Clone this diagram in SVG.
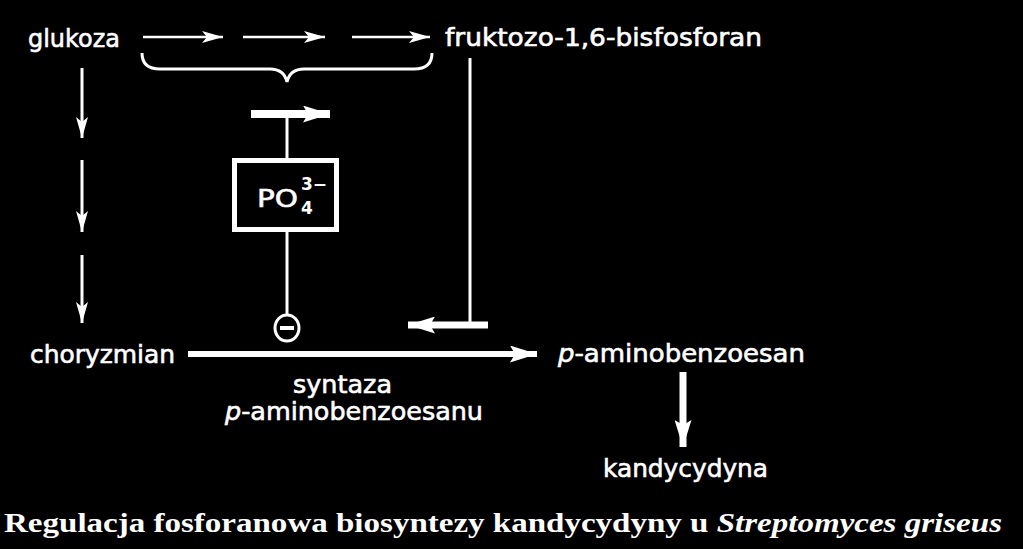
<svg xmlns="http://www.w3.org/2000/svg" width="1023" height="549" viewBox="0 0 1023 549">
<style>
.lbl{font-family:"DejaVu Sans","Liberation Sans",sans-serif;font-size:24px;fill:#fff;stroke:#fff;stroke-width:0.6}
.sub{font-family:"DejaVu Sans","Liberation Sans",sans-serif;font-size:17px;fill:#fff;font-weight:bold}
.it{font-style:italic}
.cap{font-family:"Liberation Serif","DejaVu Serif",serif;font-size:28px;font-weight:bold;fill:#fff}
.thin{stroke:#fff;stroke-width:2.5;fill:none}
.line{stroke:#fff;stroke-width:3;fill:none}
.thick{stroke:#fff;fill:none}
</style>
<defs>
<marker id="h" markerUnits="userSpaceOnUse" markerWidth="22" markerHeight="12" refX="21" refY="6" orient="auto">
<path d="M0,0 L21,6 L0,12 L5,6 z" fill="#fff"/>
</marker>
<marker id="H" markerUnits="userSpaceOnUse" markerWidth="28" markerHeight="17" refX="27" refY="8.5" orient="auto">
<path d="M0,0 L27,8.5 L0,17 L5,8.5 z" fill="#fff"/>
</marker>
</defs>
<rect width="1023" height="549" fill="#000"/>
<g id="connectors">
<line class="thin" x1="143" y1="37" x2="223" y2="37" marker-end="url(#h)"/>
<line class="thin" x1="243" y1="37" x2="325" y2="37" marker-end="url(#h)"/>
<line class="thin" x1="352" y1="37" x2="430" y2="37" marker-end="url(#h)"/>
<path class="line" d="M142,53 Q142,69 160,69 L270,69 Q284,69 287,82 Q290,69 304,69 L414,69 Q432,69 432,53"/>
<line class="line" x1="82" y1="68" x2="82" y2="138" marker-end="url(#h)"/>
<line class="line" x1="82" y1="160" x2="82" y2="232" marker-end="url(#h)"/>
<line class="line" x1="82" y1="255" x2="82" y2="323" marker-end="url(#h)"/>
<line class="thick" stroke-width="8" x1="251" y1="114" x2="330" y2="114" marker-end="url(#H)"/>
<line class="line" x1="287" y1="114" x2="287" y2="160"/>
<line class="line" x1="287" y1="230" x2="287" y2="315"/>
<line class="line" x1="470" y1="58" x2="470" y2="325"/>
<line class="thick" stroke-width="7" x1="488" y1="325" x2="408" y2="325" marker-end="url(#H)"/>
<line class="thick" stroke-width="6" x1="188" y1="354" x2="537" y2="354" marker-end="url(#H)"/>
<line class="thick" stroke-width="7" x1="683" y1="372" x2="683" y2="447" marker-end="url(#H)"/>
</g>
<g id="glukoza"><text class="lbl" x="28" y="47" textLength="92" lengthAdjust="spacingAndGlyphs">glukoza</text></g>
<g id="fruktozo"><text class="lbl" x="445" y="46" textLength="317" lengthAdjust="spacingAndGlyphs">fruktozo-1,6-bisfosforan</text></g>
<g id="po4">
<rect x="234.5" y="160.5" width="102" height="69" fill="none" stroke="#fff" stroke-width="5"/>
<text class="lbl" x="257" y="207" font-size="27" textLength="41" lengthAdjust="spacingAndGlyphs">PO</text>
<text class="sub" x="301" y="190">3−</text>
<text class="sub" x="301" y="214">4</text>
</g>
<g id="inhibit">
<ellipse cx="287" cy="328" rx="12" ry="13" fill="none" stroke="#fff" stroke-width="3"/>
<line x1="280" y1="328" x2="294" y2="328" stroke="#fff" stroke-width="4"/>
</g>
<g id="choryzmian"><text class="lbl" x="30" y="363" textLength="145" lengthAdjust="spacingAndGlyphs">choryzmian</text></g>
<g id="enzyme">
<text class="lbl" x="293" y="393" textLength="99" lengthAdjust="spacingAndGlyphs">syntaza</text>
<text class="lbl" x="225" y="420" textLength="258" lengthAdjust="spacingAndGlyphs"><tspan class="it">p</tspan>-aminobenzoesanu</text>
</g>
<g id="paba"><text class="lbl" x="558" y="362" textLength="247" lengthAdjust="spacingAndGlyphs"><tspan class="it">p</tspan>-aminobenzoesan</text></g>
<g id="kandycydyna"><text class="lbl" x="603" y="477" textLength="165" lengthAdjust="spacingAndGlyphs">kandycydyna</text></g>
<g id="caption"><text class="cap" x="4" y="532" textLength="998" lengthAdjust="spacingAndGlyphs">Regulacja fosforanowa biosyntezy kandycydyny u <tspan font-style="italic">Streptomyces griseus</tspan></text></g>
</svg>
